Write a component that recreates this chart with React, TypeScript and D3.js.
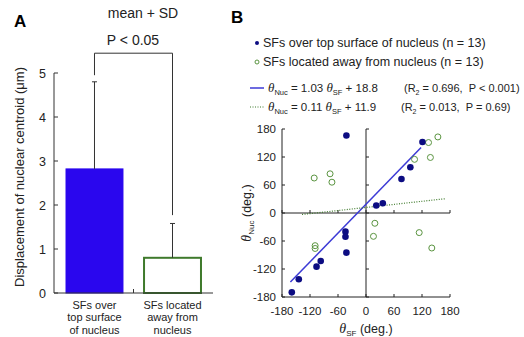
import { useEffect, useRef } from 'react';
import * as d3 from 'd3';

// Panel A: nuclear centroid displacement (mean + SD)
const barKeys = ['over', 'away'];
const barLabels = [
  ['SFs over', 'top surface', 'of nucleus'],
  ['SFs located', 'away from', 'nucleus'],
];
const barMeans = [2.82, 0.8];
const barSDs = [1.98, 0.78];
const yTicksA = [0, 1, 2, 3, 4, 5];
// significance bracket: top level, left leg end, right leg end (um)
const bracketLevels = [5.45, 4.95, 1.77];

// Panel B: orientation of nucleus vs. SF
const overSF = [-42, 121, 95, 76, 22, 36, -44, -44, -42, -97, -106, -144, -159];
const overNuc = [166, 152, 98, 73, 16, 21, -40, -51, -85, -103, -115, -142, -170];
const awaySF = [-111, -77, -73, 134, 154, 104, 138, 19, 16, 114, 141, -109, -109];
const awayNuc = [75, 84, 66, 151, 163, 115, 119, -22, -50, -42, -75, -70, -76];
const fitOver = [1.03, 18.8];
const fitAway = [0.11, 11.9];
const fitOverRange = [-162, 118];
const fitAwayRange = [-137, 170];
const ticksB = [-180, -120, -60, 0, 60, 120, 180];

const BLUE_BAR = '#2a06ee';
const NAVY = '#0c0c82';
const FIT_BLUE = '#3c3ad6';
const GREEN = '#5a9440';
const DARK_GREEN = '#3f7a2c';
const FONT = 'Liberation Sans, Arial, Helvetica, sans-serif';
const GREEK = 'Liberation Serif, Times New Roman, serif';

export default function App() {
  const ref = useRef<SVGSVGElement>(null);

  useEffect(() => {
    if (!ref.current) return;
    const svg = d3.select(ref.current);
    svg.selectAll('*').remove();
    svg.attr('font-family', FONT);

    // ---------- Panel A ----------
    const yA = d3.scaleLinear().domain([0, 5]).range([293, 73]);
    const xA = d3
      .scaleBand()
      .domain(barKeys)
      .range([54, 213])
      .paddingInner(0.27)
      .paddingOuter(0.154);
    const a = svg.append('g');

    a.append('text').attr('x', 14).attr('y', 27).attr('font-size', 17).attr('font-weight', 'bold').text('A');
    a.append('text').attr('x', 143).attr('y', 18).attr('text-anchor', 'middle').attr('font-size', 14).attr('fill', '#222').text('mean + SD');
    a.append('text').attr('x', 133).attr('y', 45).attr('text-anchor', 'middle').attr('font-size', 14).attr('fill', '#222').text('P < 0.05');

    // bars
    a.selectAll('rect.bar')
      .data(barKeys)
      .enter()
      .append('rect')
      .attr('x', (d) => xA(d) ?? 0)
      .attr('y', (_, i) => yA(barMeans[i]))
      .attr('width', xA.bandwidth())
      .attr('height', (_, i) => yA(0) - yA(barMeans[i]))
      .attr('fill', (_, i) => (i === 0 ? BLUE_BAR : '#fff'))
      .attr('stroke', (_, i) => (i === 0 ? BLUE_BAR : DARK_GREEN))
      .attr('stroke-width', (_, i) => (i === 0 ? 1 : 2));

    // error bars
    barKeys.forEach((k, i) => {
      const cx = (xA(k) ?? 0) + xA.bandwidth() / 2;
      const top = yA(barMeans[i] + barSDs[i]);
      a.append('line').attr('x1', cx).attr('x2', cx).attr('y1', yA(barMeans[i])).attr('y2', top).attr('stroke', '#333');
      a.append('line').attr('x1', cx - 2.5).attr('x2', cx + 2.5).attr('y1', top).attr('y2', top).attr('stroke', '#333');
    });

    // bracket
    const bx0 = (xA(barKeys[0]) ?? 0) + xA.bandwidth() / 2;
    const bx1 = (xA(barKeys[1]) ?? 0) + xA.bandwidth() / 2;
    a.append('path')
      .attr('d', `M${bx0},${yA(bracketLevels[1])}V${yA(bracketLevels[0])}H${bx1}V${yA(bracketLevels[2])}`)
      .attr('fill', 'none')
      .attr('stroke', '#333');

    // axes
    a.append('line').attr('x1', 54).attr('x2', 54).attr('y1', yA(5)).attr('y2', yA(0)).attr('stroke', '#333');
    a.append('line').attr('x1', 54).attr('x2', 213).attr('y1', yA(0)).attr('y2', yA(0)).attr('stroke', '#333');
    const midTick = (bx0 + bx1) / 2;
    a.append('line').attr('x1', midTick).attr('x2', midTick).attr('y1', yA(0)).attr('y2', yA(0) - 4).attr('stroke', '#333');
    a.selectAll('line.ytick')
      .data(yTicksA)
      .enter()
      .append('line')
      .attr('x1', 54)
      .attr('x2', 58)
      .attr('y1', (d) => yA(d))
      .attr('y2', (d) => yA(d))
      .attr('stroke', '#333');
    a.selectAll('text.ytick')
      .data(yTicksA)
      .enter()
      .append('text')
      .attr('x', 46)
      .attr('y', (d) => yA(d) + 4.5)
      .attr('text-anchor', 'end')
      .attr('font-size', 12.5)
      .attr('fill', '#222')
      .text((d) => d);

    a.append('text')
      .attr('transform', `translate(24,${177}) rotate(-90)`)
      .attr('text-anchor', 'middle')
      .attr('font-size', 13)
      .attr('fill', '#222')
      .text('Displacement of nuclear centroid (μm)');

    barLabels.forEach((lines, i) => {
      const cx = (xA(barKeys[i]) ?? 0) + xA.bandwidth() / 2;
      lines.forEach((t, j) => {
        a.append('text')
          .attr('x', cx)
          .attr('y', 308.5 + j * 12.5)
          .attr('text-anchor', 'middle')
          .attr('font-size', 11)
          .attr('fill', '#222')
          .text(t);
      });
    });

    // ---------- Panel B ----------
    const xB = d3.scaleLinear().domain([-180, 180]).range([282, 450]);
    const yB = d3.scaleLinear().domain([-180, 180]).range([297, 129]);
    const b = svg.append('g');

    b.append('text').attr('x', 231).attr('y', 23).attr('font-size', 17).attr('font-weight', 'bold').text('B');

    // legend
    b.append('circle').attr('cx', 257).attr('cy', 43).attr('r', 2).attr('fill', NAVY);
    b.append('circle').attr('cx', 257).attr('cy', 62).attr('r', 2).attr('fill', 'none').attr('stroke', GREEN);
    b.append('text').attr('x', 263).attr('y', 47).attr('font-size', 12.5).attr('fill', '#222').text('SFs over top surface of nucleus (n = 13)');
    b.append('text').attr('x', 263).attr('y', 66).attr('font-size', 12.5).attr('fill', '#222').text('SFs located away from nucleus (n = 13)');

    const eq = (y: number, fit: number[], statsX: number, stats: string) => {
      const t = b.append('text').attr('x', 268).attr('y', y).attr('font-size', 11.5).attr('fill', '#222');
      t.append('tspan').attr('font-family', GREEK).attr('font-style', 'italic').attr('font-size', 13).text('θ');
      t.append('tspan').attr('font-size', 7.5).attr('dy', 2.5).text('Nuc');
      t.append('tspan').attr('dy', -2.5).text(` = ${fit[0].toFixed(2)} `);
      t.append('tspan').attr('font-family', GREEK).attr('font-style', 'italic').attr('font-size', 13).text('θ');
      t.append('tspan').attr('font-size', 7.5).attr('dy', 2.5).text('SF');
      t.append('tspan').attr('dy', -2.5).text(` + ${fit[1].toFixed(1)}`);
      t.append('tspan').attr('x', statsX).attr('font-size', 11).text('(R');
      t.append('tspan').attr('font-size', 7).attr('dy', 2.5).text('2');
      t.append('tspan').attr('dy', -2.5).attr('font-size', 11).attr('xml:space', 'preserve').text(stats);
    };
    b.append('line').attr('x1', 250).attr('x2', 264).attr('y1', 88).attr('y2', 88).attr('stroke', FIT_BLUE).attr('stroke-width', 1.5);
    b.append('line').attr('x1', 250).attr('x2', 264).attr('y1', 107).attr('y2', 107).attr('stroke', DARK_GREEN).attr('stroke-width', 1.2).attr('stroke-dasharray', '1,1.5');
    eq(92, fitOver, 404, ' = 0.696,  P < 0.001)');
    eq(111, fitAway, 401, ' = 0.013,  P = 0.69)');

    // axes frame (left + bottom)
    b.append('line').attr('x1', xB(-180)).attr('x2', xB(-180)).attr('y1', yB(180)).attr('y2', yB(-180)).attr('stroke', '#222');
    b.append('line').attr('x1', xB(-180)).attr('x2', xB(180)).attr('y1', yB(-180)).attr('y2', yB(-180)).attr('stroke', '#222');
    // zero lines
    b.append('line').attr('x1', xB(0)).attr('x2', xB(0)).attr('y1', yB(180)).attr('y2', yB(-180)).attr('stroke', '#222');
    b.append('line').attr('x1', xB(-180)).attr('x2', xB(180)).attr('y1', yB(0)).attr('y2', yB(0)).attr('stroke', '#222');

    ticksB.forEach((t) => {
      // left axis + vertical zero line ticks
      [xB(-180), xB(0)].forEach((x0) => {
        b.append('line').attr('x1', x0).attr('x2', x0 + 3).attr('y1', yB(t)).attr('y2', yB(t)).attr('stroke', '#222');
      });
      // bottom axis + horizontal zero line ticks
      [yB(-180), yB(0)].forEach((y0) => {
        b.append('line').attr('x1', xB(t)).attr('x2', xB(t)).attr('y1', y0).attr('y2', y0 - 3).attr('stroke', '#222');
      });
      b.append('text').attr('x', 276).attr('y', yB(t) + 4).attr('text-anchor', 'end').attr('font-size', 11.5).attr('fill', '#222').text(t);
      b.append('text').attr('x', xB(t)).attr('y', 315).attr('text-anchor', 'middle').attr('font-size', 11.5).attr('fill', '#222').text(t);
    });

    // axis titles
    const yl = b.append('text')
      .attr('transform', `translate(251,${yB(0)}) rotate(-90)`)
      .attr('text-anchor', 'middle')
      .attr('font-size', 12.5)
      .attr('fill', '#222');
    yl.append('tspan').attr('font-family', GREEK).attr('font-style', 'italic').attr('font-size', 14).text('θ');
    yl.append('tspan').attr('font-size', 8).attr('dy', 3).text('Nuc');
    yl.append('tspan').attr('dy', -3).text(' (deg.)');

    const xl = b.append('text')
      .attr('x', xB(0))
      .attr('y', 333)
      .attr('text-anchor', 'middle')
      .attr('font-size', 12.5)
      .attr('fill', '#222');
    xl.append('tspan').attr('font-family', GREEK).attr('font-style', 'italic').attr('font-size', 14).text('θ');
    xl.append('tspan').attr('font-size', 8).attr('dy', 3).text('SF');
    xl.append('tspan').attr('dy', -3).text(' (deg.)');

    // fit lines
    b.append('line')
      .attr('x1', xB(fitOverRange[0]))
      .attr('y1', yB(fitOver[0] * fitOverRange[0] + fitOver[1]))
      .attr('x2', xB(fitOverRange[1]))
      .attr('y2', yB(fitOver[0] * fitOverRange[1] + fitOver[1]))
      .attr('stroke', FIT_BLUE)
      .attr('stroke-width', 1.5);
    b.append('line')
      .attr('x1', xB(fitAwayRange[0]))
      .attr('y1', yB(fitAway[0] * fitAwayRange[0] + fitAway[1]))
      .attr('x2', xB(fitAwayRange[1]))
      .attr('y2', yB(fitAway[0] * fitAwayRange[1] + fitAway[1]))
      .attr('stroke', DARK_GREEN)
      .attr('stroke-width', 1.2)
      .attr('stroke-dasharray', '1,1.5');

    // points
    b.selectAll('circle.away')
      .data(awaySF)
      .enter()
      .append('circle')
      .attr('cx', (d) => xB(d))
      .attr('cy', (_, i) => yB(awayNuc[i]))
      .attr('r', 3)
      .attr('fill', 'none')
      .attr('stroke', GREEN)
      .attr('stroke-width', 1);
    b.selectAll('circle.over')
      .data(overSF)
      .enter()
      .append('circle')
      .attr('cx', (d) => xB(d))
      .attr('cy', (_, i) => yB(overNuc[i]))
      .attr('r', 3.3)
      .attr('fill', NAVY);
  }, []);

  return (
    <svg
      ref={ref}
      width={524}
      height={337}
      style={{ position: 'absolute', left: 0, top: 0, background: '#fff' }}
    />
  );
}
